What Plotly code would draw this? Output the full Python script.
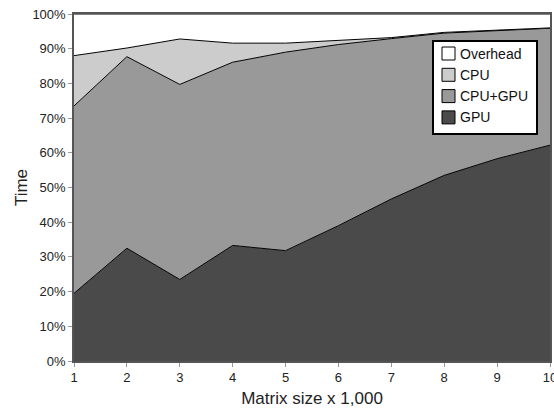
import plotly.graph_objects as go

x = [1, 2, 3, 4, 5, 6, 7, 8, 9, 10]
gpu = [19.5, 32.5, 23.5, 33.3, 31.8, 39.0, 46.7, 53.5, 58.3, 62.2]
cpu_gpu = [54.0, 55.2, 56.2, 52.8, 57.2, 52.2, 46.2, 41.0, 36.9, 33.7]
cpu = [14.5, 2.5, 13.1, 5.5, 2.6, 1.1, 0.3, 0.2, 0.1, 0.1]
overhead = [12.0, 9.8, 7.2, 8.4, 8.4, 7.7, 6.8, 5.3, 4.7, 4.0]
y_ticks = list(range(0, 101, 10))
y_labels = [f"{v}%" for v in y_ticks]

series = [
    ("GPU", gpu, "#4a4a4a"),
    ("CPU+GPU", cpu_gpu, "#999999"),
    ("CPU", cpu, "#cccccc"),
    ("Overhead", overhead, "#ffffff"),
]

W, H = 554, 413
ML, MR, MT, MB = 74, 4, 14, 52
PW, PH = W - ML - MR, H - MT - MB


def px(v):
    return (v - ML) / PW


def py(v):
    return (H - MB - v) / PH


fig = go.Figure()
for name, vals, col in series:
    fig.add_trace(go.Scatter(
        x=x, y=vals, name=name, mode="lines", stackgroup="one",
        fillcolor=col, line=dict(color="black", width=1), showlegend=False,
        hoverinfo="skip",
    ))

# manual legend box
shapes = [dict(type="rect", xref="paper", yref="paper",
               x0=px(433), x1=px(537), y0=py(134), y1=py(41),
               fillcolor="white", line=dict(color="black", width=2), layer="above")]
annotations = []
for i, (name, vals, col) in enumerate(reversed(series)):
    cy = 53.5 + i * 21.3
    shapes.append(dict(type="rect", xref="paper", yref="paper",
                       x0=px(442), x1=px(455), y0=py(cy + 6.5), y1=py(cy - 6.5),
                       fillcolor=col, line=dict(color="black", width=1), layer="above"))
    annotations.append(dict(text=name, xref="paper", yref="paper", x=px(458), y=py(cy),
                            xanchor="left", yanchor="middle", showarrow=False,
                            font=dict(size=14, color="#111")))

fig.update_layout(
    width=W, height=H,
    margin=dict(l=ML, r=MR, t=MT, b=MB),
    paper_bgcolor="white", plot_bgcolor="white",
    font=dict(family="Liberation Sans, Arial, sans-serif", size=13, color="#222"),
    showlegend=False,
    shapes=shapes, annotations=annotations,
    xaxis=dict(
        range=[1, 10], tickvals=x, ticks="outside", ticklen=4, tickcolor="#999",
        showgrid=False, zeroline=False, showline=True, linecolor="#555", linewidth=1.5,
        mirror=True, automargin=False, ticklabeloverflow="allow",
        title=dict(text="Matrix size x 1,000", font=dict(size=17), standoff=8),
        tickfont=dict(size=13),
    ),
    yaxis=dict(
        range=[0, 100], tickvals=y_ticks, ticktext=y_labels,
        ticks="outside", ticklen=4, tickcolor="#999",
        showgrid=False, zeroline=False, showline=True, linecolor="#555", linewidth=1.5,
        mirror=True, automargin=False, ticklabeloverflow="allow",
        title=dict(text="Time", font=dict(size=17), standoff=0),
        tickfont=dict(size=13),
    ),
)

fig.write_html("out.html", config={"displayModeBar": False},
               post_script="document.body.style.margin='0';")
